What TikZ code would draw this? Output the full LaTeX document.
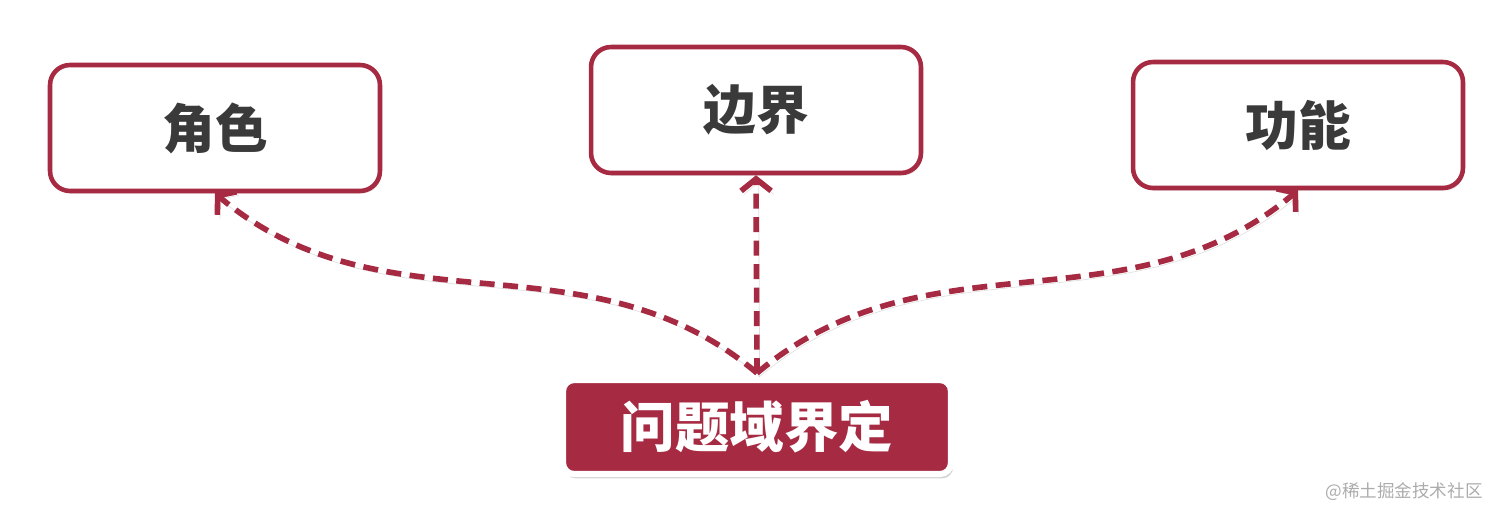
\documentclass[tikz,border=0pt]{standalone}
\usepackage{fontspec}
\newfontfamily\cjk{Noto Sans CJK SC}
\usetikzlibrary{arrows.meta,shadows}
\definecolor{domainred}{RGB}{166,42,66}
\definecolor{labelgray}{RGB}{58,58,58}
\tikzstyle{aspectbox}=[draw=domainred,line width=2.6pt,rounded corners=0.4cm,fill=white,minimum width=6.6cm,minimum height=2.52cm,text=labelgray,font=\cjk\bfseries\fontsize{30}{36}\selectfont,drop shadow={opacity=0.22,shadow xshift=0.8pt,shadow yshift=-1.5pt}]
\tikzstyle{rootbox}=[draw=white,line width=3.5pt,rounded corners=0.22cm,fill=domainred,minimum width=7.76cm,minimum height=1.88cm,text=white,font=\cjk\bfseries\fontsize{31}{36}\selectfont,drop shadow={opacity=0.35,shadow xshift=1.2pt,shadow yshift=-2.5pt}]
\tikzstyle{scopearrow}=[domainred,line width=3.2pt,dash pattern=on 0.3cm off 0.17cm,-{Straight Barb[length=0.24cm,width=0.6cm]},preaction={draw=black,opacity=0.12,transform canvas={shift={(1.5pt,-2pt)}}}]

\begin{document}
\begin{tikzpicture}[x=0.02cm,y=0.02cm]
	\useasboundingbox (0,0) rectangle (1500,-518);
	\node[aspectbox] (roles) at (215,-128) {角色};
	\node[aspectbox] (boundary) at (756,-110) {边界};
	\node[aspectbox] (functions) at (1298,-125) {功能};
	\node[rootbox] (domain) at (757,-427) {问题域界定};
	\coordinate (hub) at (757,-373);
	\draw[scopearrow] (hub) to[out=140,in=-40] (roles.south); %left
	\draw[scopearrow] (hub) -- (boundary.south); %middle
	\draw[scopearrow] (hub) to[out=40,in=-140] (functions.south); %right
	\node[font=\cjk\fontsize{10}{12}\selectfont,text=gray!65] (mark) at (1404,-492) {@稀土掘金技术社区};
\end{tikzpicture}
\end{document}
